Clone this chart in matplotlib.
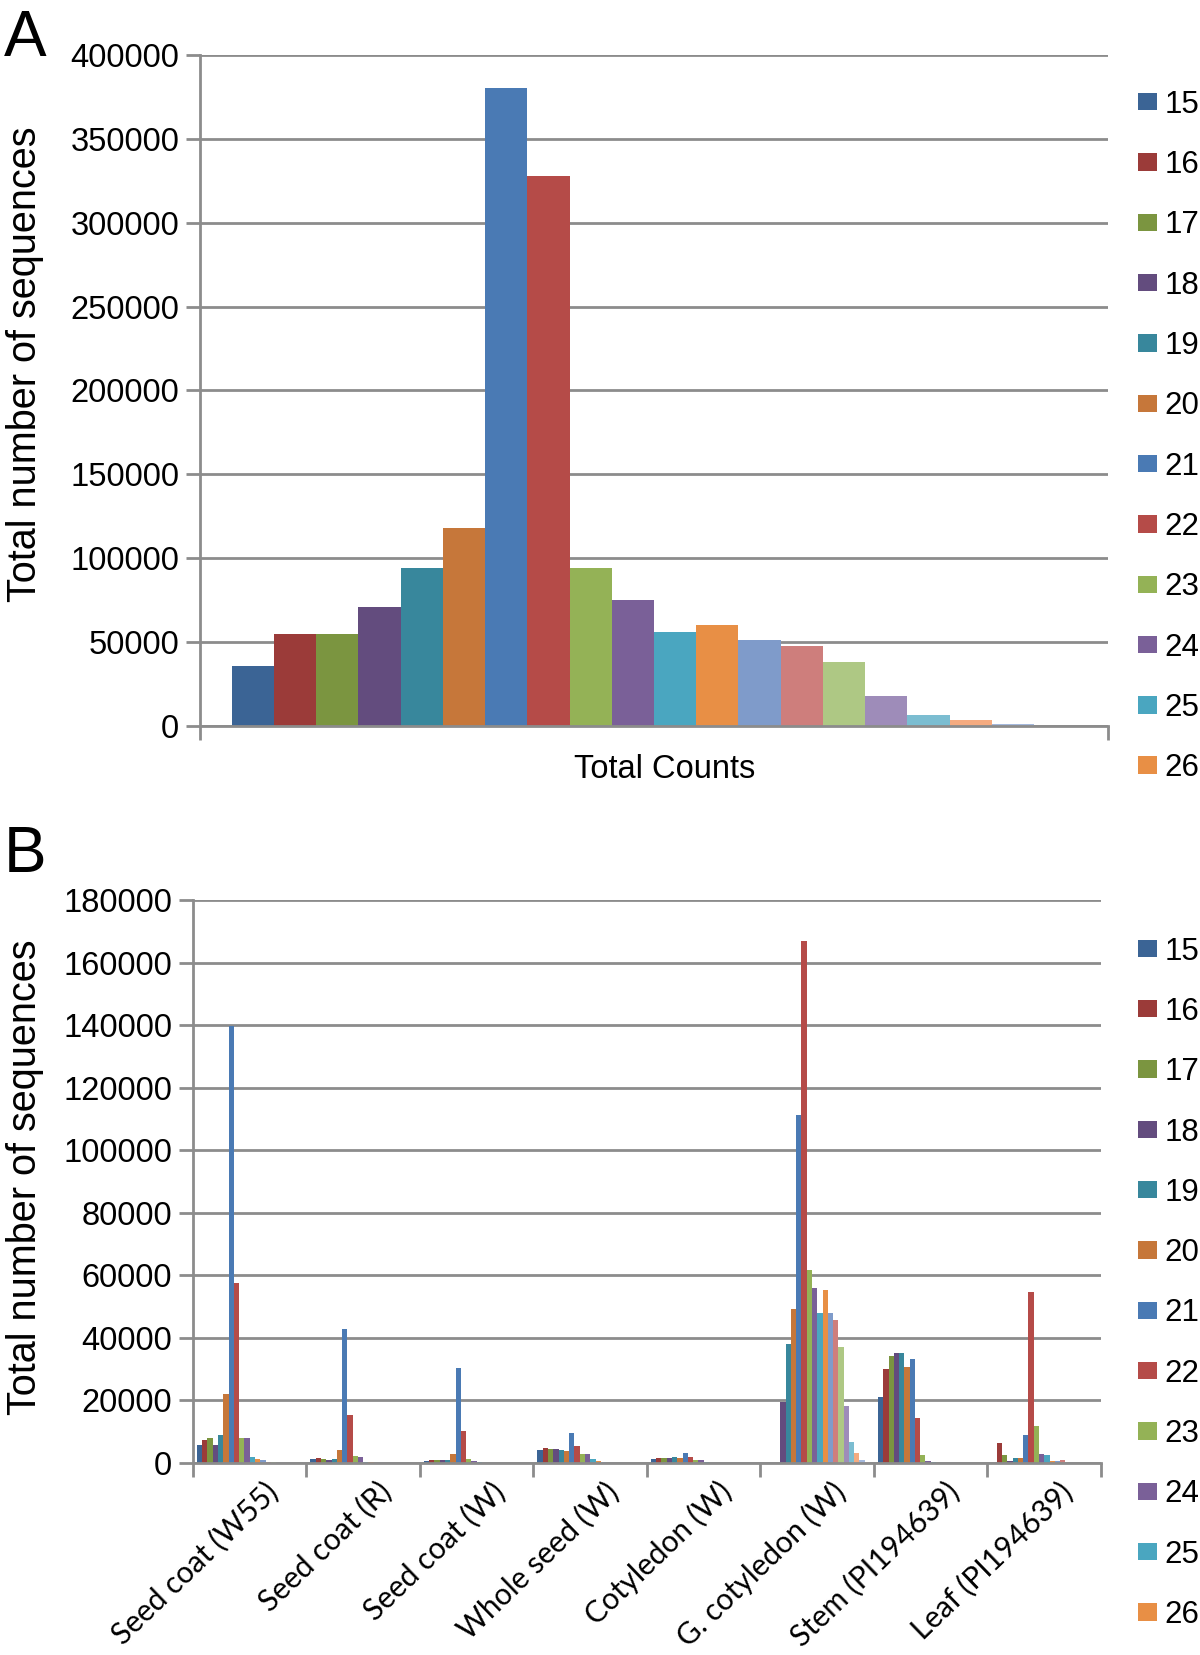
import numpy as np
import matplotlib
matplotlib.use("Agg")
import matplotlib.pyplot as plt
from matplotlib.ticker import FuncFormatter, FixedLocator

plt.rcParams['font.family'] = ['Liberation Sans', 'DejaVu Sans']

# read lengths 15..34 nt
lengths = [str(n) for n in range(15, 35)]

colors = ['#3B6495', '#9B3B39', '#7B9540', '#634C7E', '#38879C', '#C6773A',
          '#4A7AB4', '#B54B48', '#94B256', '#7A6098', '#4AA6C0', '#E88F45',
          '#7F9BCA', '#CE7E7C', '#AEC884', '#9E8CB9', '#7BBDD1', '#F5AB80',
          '#A5B9DD', '#DDA9A8']

# panel A: total counts per length
total_counts = [36000, 55000, 55000, 71000, 94000, 118000, 380500, 328000,
                94000, 75000, 56000, 60000, 51000, 48000, 38000, 18000,
                6600, 3400, 1000, 200]

# panel B: counts per library, one list per library (lengths 15..34)
libraries = ['Seed coat (W55)', 'Seed coat (R)', 'Seed coat (W)', 'Whole seed (W)',
             'Cotyledon (W)', 'G. cotyledon (W)', 'Stem (PI194639)', 'Leaf (PI194639)']
seed_coat_w55 = [5700, 7500, 7900, 5700, 9100, 22000, 139800, 57700, 7900, 7900,
                 1900, 1300, 900, 400, 200, 100, 50, 0, 0, 0]
seed_coat_r = [1200, 1500, 1300, 900, 1400, 4100, 43000, 15500, 2200, 1900,
               300, 200, 100, 50, 0, 0, 0, 0, 0, 0]
seed_coat_w = [800, 1100, 900, 900, 1100, 3000, 30500, 10200, 1300, 800,
               200, 100, 50, 0, 0, 0, 0, 0, 0, 0]
whole_seed_w = [4200, 4800, 4600, 4400, 4200, 3800, 9700, 5600, 3000, 2800,
                1400, 800, 200, 100, 50, 0, 0, 0, 0, 0]
cotyledon_w = [1200, 1700, 1700, 1700, 1900, 1600, 3100, 1900, 1000, 900,
               300, 100, 50, 0, 0, 0, 0, 0, 0, 0]
g_cotyledon_w = [0, 0, 0, 19600, 37900, 49200, 111400, 167000, 61800, 56000,
                 48000, 55400, 48000, 45700, 37200, 18100, 6600, 3300, 1000, 300]
stem_pi = [21200, 30100, 34300, 35300, 35300, 30800, 33200, 14500, 2700, 600,
           200, 100, 50, 0, 0, 0, 0, 0, 0, 0]
leaf_pi = [0, 6500, 2450, 600, 1500, 1750, 9100, 54700, 11800, 2800,
           2450, 800, 500, 900, 100, 50, 0, 0, 0, 0]
lib_counts = [seed_coat_w55, seed_coat_r, seed_coat_w, whole_seed_w,
              cotyledon_w, g_cotyledon_w, stem_pi, leaf_pi]

grid_col = '#8C8C8C'
n = len(lengths)
w = 1.0 / (n + 1.5)   # excel gap width 150%

fig = plt.figure(figsize=(12, 16.55), dpi=100)


def style_axis(ax):
    for s in ['top', 'right']:
        ax.spines[s].set_visible(False)
    for s in ['left', 'bottom']:
        ax.spines[s].set_color(grid_col)
        ax.spines[s].set_linewidth(2)
    ax.yaxis.grid(True, color=grid_col, linewidth=2)
    ax.set_axisbelow(True)
    ax.yaxis.set_major_formatter(FuncFormatter(lambda v, p: '%d' % v))
    ax.tick_params(axis='y', length=10, width=2, color=grid_col, labelsize=23.5, pad=5)
    ax.tick_params(axis='x', which='both', color=grid_col)


def add_legend(ax, xa, ya):
    h, l = ax.get_legend_handles_labels()
    # only the first 12 entries fit, the rest is cut off in the original
    ax.legend(h[:12], l[:12], loc='upper left', bbox_to_anchor=(xa, ya),
              frameon=False, fontsize=22.5, handlelength=0.6, handleheight=0.48,
              handletextpad=0.25, labelspacing=0.97, borderpad=0, borderaxespad=0)


# ---- panel A
ax1 = fig.add_axes([0.1667, 0.5613, 0.7566, 0.4055])
x0 = -0.5 + 0.75 * w
for i in range(n):
    ax1.bar(x0 + i * w, total_counts[i], width=w, color=colors[i], align='edge',
            label=lengths[i], linewidth=0)
ax1.set_xlim(-0.5, 0.5)
ax1.set_ylim(0, 400000)
ax1.set_yticks(np.arange(0, 400001, 50000))
style_axis(ax1)
ax1.set_xticks([0.012])
ax1.set_xticklabels(['Total Counts'], fontsize=23.5)
ax1.tick_params(axis='x', which='major', length=0, pad=20)
ax1.xaxis.set_minor_locator(FixedLocator([-0.5, 0.5]))
ax1.tick_params(axis='x', which='minor', length=10, width=2)
ax1.set_ylabel('Total number of sequences', fontsize=28.5)
ax1.yaxis.set_label_coords(-0.172, 0.539)
add_legend(ax1, 1.033, 0.948)

# ---- panel B
ax2 = fig.add_axes([0.1608, 0.1160, 0.7567, 0.3402])
xs = np.arange(len(libraries))
for i in range(n):
    vals = [c[i] for c in lib_counts]
    ax2.bar(xs - 0.5 + 0.75 * w + i * w, vals, width=w, color=colors[i],
            align='edge', label=lengths[i], linewidth=0)
ax2.set_xlim(-0.5, len(libraries) - 0.5)
ax2.set_ylim(0, 180000)
ax2.set_yticks(np.arange(0, 180001, 20000))
style_axis(ax2)
ax2.set_xticks(xs + 0.12)
ax2.set_xticklabels(libraries, rotation=44, ha='right', rotation_mode='anchor',
                    fontsize=21.5, family=['Lato', 'DejaVu Sans'])
ax2.tick_params(axis='x', which='major', length=0, pad=10)
ax2.xaxis.set_minor_locator(FixedLocator(np.arange(-0.5, len(libraries), 1.0)))
ax2.tick_params(axis='x', which='minor', length=10, width=2)
ax2.set_ylabel('Total number of sequences', fontsize=28.5)
ax2.yaxis.set_label_coords(-0.164, 0.508)
add_legend(ax2, 1.0407, 0.935)

fig.text(0.003, 0.9945, 'A', fontsize=46, va='top', ha='left')
fig.text(0.003, 0.5015, 'B', fontsize=46, va='top', ha='left')

fig.savefig('out.png', dpi=100)
